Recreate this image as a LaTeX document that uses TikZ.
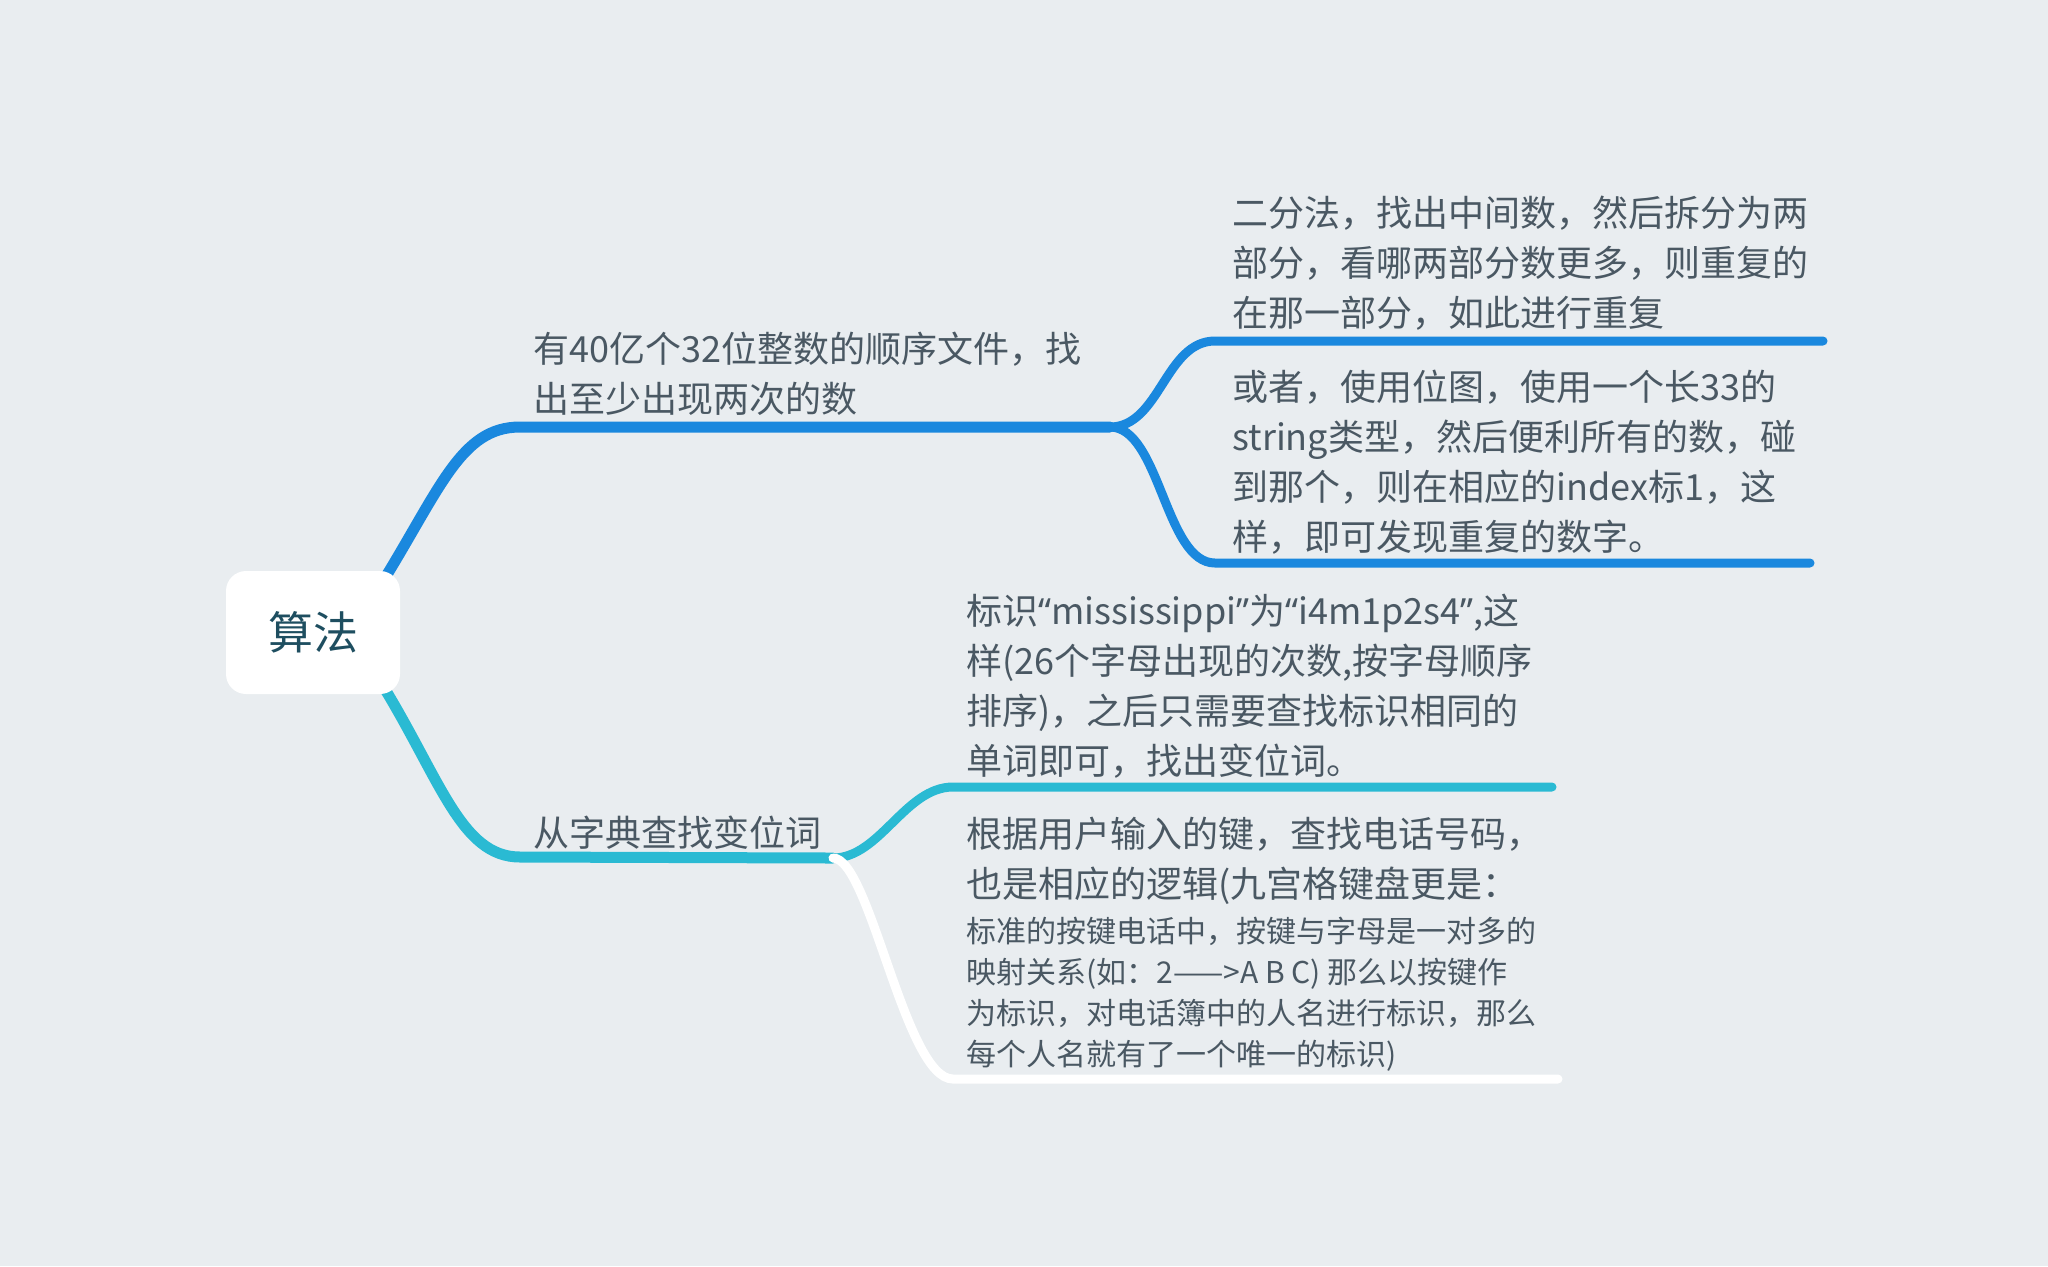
\documentclass[tikz,border=0pt]{standalone}
\usepackage{fontspec}
\newfontfamily\cjkfont{Noto Sans CJK SC}
\newfontfamily\quotefont{Noto Sans}
\usetikzlibrary{backgrounds}
\definecolor{bgc}{RGB}{233,237,240}
\definecolor{bluebr}{RGB}{26,136,222}
\definecolor{cyanbr}{RGB}{42,186,211}
\definecolor{txtc}{RGB}{74,88,99}
\definecolor{rootc}{RGB}{30,78,96}
\newcommand{\smalltxt}{\fontsize{15}{25}\selectfont}
\newcommand{\qmark}[1]{{\quotefont #1}}

\begin{document}
\begin{tikzpicture}[x=0.5pt, y=-0.5pt,
  root/.style={fill=white, rounded corners=10pt, minimum width=87pt,
    minimum height=61.5pt, inner sep=0pt, text=rootc,
    font=\cjkfont\fontsize{22.5}{27}\selectfont},
  topic/.style={anchor=base west, inner sep=0pt, align=left, text=txtc,
    font=\cjkfont\fontsize{18}{25}\selectfont},
  branch/.style={line width=5.5pt, line cap=round},
  twig/.style={line width=4.5pt, line cap=round}]
  \useasboundingbox (0,0) rectangle (2048,1266);

  % centrale knoop
  \node[root] (root) at (313,632.5) {算法};

  % eerste tak (base = laatste regel)
  \node[topic] (a) at (533,412) {有40亿个32位整数的顺序文件，找\\出至少出现两次的数};
  \node[topic] (a1) at (1232,326) {二分法，找出中间数，然后拆分为两\\部分，看哪两部分数更多，则重复的\\在那一部分，如此进行重复};
  \node[topic] (a2) at (1232,550) {或者，使用位图，使用一个长33的\\string类型，然后便利所有的数，碰\\到那个，则在相应的index标1，这\\样，即可发现重复的数字。};

  % tweede tak
  \node[topic] (b) at (533,846) {从字典查找变位词};
  \node[topic] (b1) at (966,774) {标识\qmark{“}mississippi\qmark{”}为\qmark{“}i4m1p2s4\qmark{”},这\\样(26个字母出现的次数,按字母顺序\\排序)，之后只需要查找标识相同的\\单词即可，找出变位词。};
  \node[topic] (b2) at (966,1065) {根据用户输入的键，查找电话号码，\\
    也是相应的逻辑(九宫格键盘更是：\\[-2.5pt]
    \smalltxt 标准的按键电话中，按键与字母是一对多的\\[-4.5pt]
    \smalltxt 映射关系(如：2——>A B C) 那么以按键作\\[-4.5pt]
    \smalltxt 为标识，对电话簿中的人名进行标识，那么\\[-4.5pt]
    \smalltxt 每个人名就有了一个唯一的标识)};

  % vertakkingen en uiteinden
  \coordinate (fa) at (1110,427);
  \coordinate (ea1) at (1823,341);
  \coordinate (ea2) at (1810,563);
  \coordinate (fb) at (833,858);
  \coordinate (eb1) at (1552,787);
  \coordinate (eb2) at (1558,1079);

  \begin{scope}[on background layer]
    \fill[bgc] (0,0) rectangle (2048,1266);
    % blauw
    \draw[branch, bluebr] ([shift={(-22,18)}]root.north east)
      .. controls (440,490) and (460,427) .. (520,427) -- (fa);
    \draw[twig, bluebr] (fa) .. controls (1160,427) and (1165,341) .. (1215,341) -- (ea1);
    \draw[twig, bluebr] (fa) .. controls (1160,427) and (1165,563) .. (1215,563) -- (ea2);
    % cyaan
    \draw[branch, cyanbr] ([shift={(-22,-16)}]root.south east)
      .. controls (440,777) and (460,857) .. (520,857) -- (fb);
    \draw[twig, cyanbr] (fb) .. controls (880,858) and (905,787) .. (953,787) -- (eb1);
    \draw[twig, white] (fb) .. controls (870,858) and (905,1079) .. (953,1079) -- (eb2);
  \end{scope}
\end{tikzpicture}
\end{document}
